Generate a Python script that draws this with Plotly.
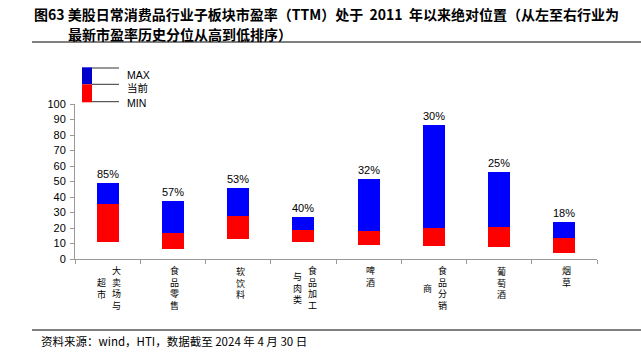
import plotly.graph_objects as go

# ---------------- data ----------------
categories = ["大卖场与超市", "食品零售", "软饮料", "食品加工与肉类", "啤酒", "食品分销商", "葡萄酒", "烟草"]
label_columns = [["大卖场与", "超市"], ["食品零售"], ["软饮料"], ["食品加工", "与肉类"],
                 ["啤酒"], ["食品分销", "商"], ["葡萄酒"], ["烟草"]]
max_vals = [49.2, 37.6, 45.6, 27.3, 51.4, 86.5, 55.9, 23.9]
cur_vals = [35.5, 16.6, 28.0, 18.7, 18.3, 20.2, 20.6, 13.5]
min_vals = [11.2, 6.5, 12.7, 10.8, 9.0, 8.6, 7.5, 3.9]
pct_labels = ["85%", "57%", "53%", "40%", "32%", "30%", "25%", "18%"]
y_ticks = list(range(0, 101, 10))

title_line1 = "图63 美股日常消费品行业子板块市盈率（TTM）处于  2011  年以来绝对位置（从左至右行业为"
title_line2 = "最新市盈率历史分位从高到低排序）"
source_text = "资料来源：wind，HTI，数据截至 2024 年 4 月 30 日"
legend_items = ["MAX", "当前", "MIN"]

# ---------------- layout geometry (pixels) ----------------
W, H = 641, 352
L, R, T, B = 75, 597, 104, 259

def px(x):
    return (x - L) / (R - L)

def py(y):
    return (B - y) / (B - T)

n = len(categories)
xs = list(range(n))
red_h = [c - m for c, m in zip(cur_vals, min_vals)]
blue_h = [mx - c for mx, c in zip(max_vals, cur_vals)]

fig = go.Figure()
fig.add_trace(go.Bar(x=xs, y=red_h, base=min_vals, width=0.34,
                     marker=dict(color="#FF0000", line=dict(width=0)), showlegend=False))
fig.add_trace(go.Bar(x=xs, y=blue_h, base=cur_vals, width=0.34,
                     marker=dict(color="#0000FF", line=dict(width=0)), showlegend=False))

ann = []
tick_font = dict(family="Liberation Sans, Arial, sans-serif", size=11, color="#000")
for i in range(n):
    ann.append(dict(x=xs[i], y=max_vals[i], xref="x", yref="y", text=pct_labels[i],
                    showarrow=False, yanchor="bottom", yshift=1, font=tick_font))

# vertical category labels (one text block per column)
cjk = "Noto Sans CJK SC"
fs = 9
row = fs * 1.3
top_y = 265
for i, cols in enumerate(label_columns):
    main_len = len(cols[0])
    center = top_y + main_len * row / 2
    offsets = [2] if len(cols) == 1 else [9, -6]
    for j, col in enumerate(cols):
        ann.append(dict(x=xs[i], y=py(center), xref="x", yref="paper",
                        xshift=offsets[j], text="<br>".join(list(col)), showarrow=False,
                        xanchor="center", yanchor="middle", align="center",
                        font=dict(family=cjk, size=fs, color="#000")))

# title
title_font = dict(family=cjk, size=14, color="#000", weight="bold")
ann.append(dict(x=px(32), y=py(14.3), xref="paper", yref="paper", text=title_line1,
                showarrow=False, xanchor="left", yanchor="middle", font=title_font))
ann.append(dict(x=px(66), y=py(33.5), xref="paper", yref="paper", text=title_line2,
                showarrow=False, xanchor="left", yanchor="middle", font=title_font))
# source
ann.append(dict(x=px(39), y=py(341), xref="paper", yref="paper", text=source_text,
                showarrow=False, xanchor="left", yanchor="middle",
                font=dict(family=cjk, size=11.5, color="#000")))

# legend text
leg_y = [75, 88, 103]
for t, yv in zip(legend_items, leg_y):
    ann.append(dict(x=px(125), y=py(yv), xref="paper", yref="paper", text=t,
                    showarrow=False, xanchor="left", yanchor="middle",
                    font=dict(family="Liberation Sans, " + cjk, size=10.5, color="#000")))

shapes = []
# legend swatches
shapes.append(dict(type="rect", xref="paper", yref="paper", x0=px(82), x1=px(92),
                   y0=py(84.3), y1=py(67.3), fillcolor="#0000CC", line=dict(width=0)))
shapes.append(dict(type="rect", xref="paper", yref="paper", x0=px(82), x1=px(92),
                   y0=py(102.3), y1=py(84.3), fillcolor="#FF0000", line=dict(width=0)))
for yv in [68, 84.3, 101.7]:
    shapes.append(dict(type="line", xref="paper", yref="paper", x0=px(92), x1=px(119),
                       y0=py(yv), y1=py(yv), line=dict(color="#333", width=1)))
# separator lines
shapes.append(dict(type="line", xref="paper", yref="paper", x0=px(32), x1=px(641),
                   y0=py(42), y1=py(42), line=dict(color="#808080", width=2)))
shapes.append(dict(type="line", xref="paper", yref="paper", x0=px(32), x1=px(641),
                   y0=py(330), y1=py(330), line=dict(color="#808080", width=2)))

fig.update_layout(
    width=W, height=H,
    margin=dict(l=L, r=W - R, t=T, b=H - B, pad=0),
    paper_bgcolor="white", plot_bgcolor="white",
    barmode="overlay", bargap=0,
    annotations=ann, shapes=shapes,
    xaxis=dict(range=[-0.5, n - 0.5], tickvals=[i + 0.5 for i in range(-1, n)],
               ticktext=[""] * (n + 1), ticks="outside", ticklen=4, tickcolor="#999",
               showline=True, linecolor="#999", linewidth=1, showgrid=False,
               zeroline=False, fixedrange=True),
    yaxis=dict(range=[0, 100], tickvals=y_ticks, ticks="outside", ticklen=4,
               tickcolor="#999", showline=True, linecolor="#999", linewidth=1,
               showgrid=False, zeroline=False, tickfont=tick_font, ticklabelstandoff=2),
    showlegend=False,
)

fig.write_html("out.html")
